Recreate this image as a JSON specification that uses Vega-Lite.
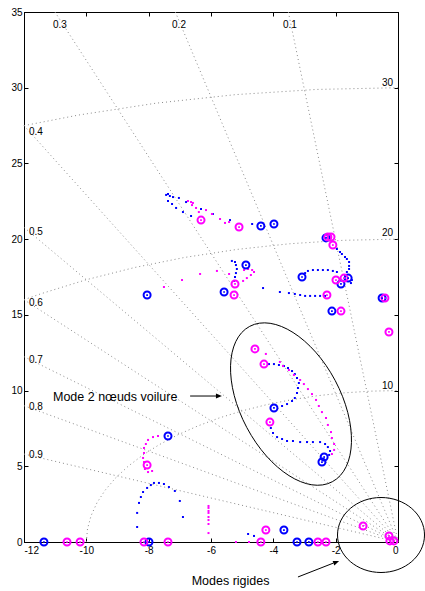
{
"$schema":"https://vega.github.io/schema/vega-lite/v6.json",
"width":374,"height":530,
"autosize":{"type":"none"},
"padding":{"left":24,"top":12,"right":27,"bottom":49},
"background":"white",
"config":{"view":{"stroke":"black","strokeWidth":1},"axis":{"grid":false,"domainColor":"black","domainWidth":1,"tickColor":"black","tickSize":-4,"labelColor":"black","labelFont":"Liberation Sans","labelFontSize":10,"title":null}},
"datasets":{
"grid":[
{"g":"z1","x":0,"y":0},{"g":"z1","x":-3.518,"y":35},
{"g":"z2","x":0,"y":0},{"g":"z2","x":-7.144,"y":35},
{"g":"z3","x":0,"y":0},{"g":"z3","x":-11.006,"y":35},
{"g":"z4","x":0,"y":0},{"g":"z4","x":-12,"y":27.5},
{"g":"z5","x":0,"y":0},{"g":"z5","x":-12,"y":20.78},
{"g":"z6","x":0,"y":0},{"g":"z6","x":-12,"y":16.0},
{"g":"z7","x":0,"y":0},{"g":"z7","x":-12,"y":12.24},
{"g":"z8","x":0,"y":0},{"g":"z8","x":-12,"y":9.0},
{"g":"z9","x":0,"y":0},{"g":"z9","x":-12,"y":5.81},
{"g":"c10","x":0,"y":10},{"g":"c10","x":-0.872,"y":9.962},{"g":"c10","x":-1.736,"y":9.848},{"g":"c10","x":-2.588,"y":9.659},{"g":"c10","x":-3.42,"y":9.397},{"g":"c10","x":-4.226,"y":9.063},{"g":"c10","x":-5,"y":8.66},{"g":"c10","x":-5.736,"y":8.192},{"g":"c10","x":-6.428,"y":7.66},{"g":"c10","x":-7.071,"y":7.071},{"g":"c10","x":-7.66,"y":6.428},{"g":"c10","x":-8.192,"y":5.736},{"g":"c10","x":-8.66,"y":5},{"g":"c10","x":-9.063,"y":4.226},{"g":"c10","x":-9.397,"y":3.42},{"g":"c10","x":-9.659,"y":2.588},{"g":"c10","x":-9.848,"y":1.736},{"g":"c10","x":-9.962,"y":0.872},{"g":"c10","x":-10,"y":0},
{"g":"c20","x":0,"y":20},{"g":"c20","x":-1.743,"y":19.924},{"g":"c20","x":-3.473,"y":19.696},{"g":"c20","x":-5.176,"y":19.319},{"g":"c20","x":-6.84,"y":18.794},{"g":"c20","x":-8.452,"y":18.126},{"g":"c20","x":-10,"y":17.321},{"g":"c20","x":-11.472,"y":16.383},{"g":"c20","x":-12,"y":16},
{"g":"c30","x":0,"y":30},{"g":"c30","x":-2.615,"y":29.886},{"g":"c30","x":-5.209,"y":29.544},{"g":"c30","x":-7.765,"y":28.978},{"g":"c30","x":-10.261,"y":28.191},{"g":"c30","x":-12,"y":27.495}
],
"glabL":[
{"t":"0.3","x":-11.07,"y":34.14},{"t":"0.2","x":-7.25,"y":34.14},{"t":"0.1","x":-3.69,"y":34.14},
{"t":"0.4","x":-11.84,"y":27.08},{"t":"0.5","x":-11.84,"y":20.49},{"t":"0.6","x":-11.84,"y":15.76},{"t":"0.7","x":-11.84,"y":12.02},{"t":"0.8","x":-11.84,"y":8.93},{"t":"0.9","x":-11.84,"y":5.75}
],
"glabR":[
{"t":"30","x":-0.16,"y":30.31},{"t":"20","x":-0.16,"y":20.41},{"t":"10","x":-0.16,"y":10.3}
],
"dots":[
{"s":"b","x":-7.44,"y":22.92},{"s":"b","x":-7.38,"y":22.98},{"s":"b","x":-7.32,"y":22.85},{"s":"b","x":-7.22,"y":22.78},{"s":"b","x":-7.03,"y":22.72},{"s":"b","x":-6.8,"y":22.45},{"s":"b","x":-6.32,"y":21.99},{"s":"b","x":-7.38,"y":22.52},{"s":"b","x":-7.25,"y":22.32},{"s":"b","x":-7.12,"y":22.06},{"s":"b","x":-6.9,"y":21.79},{"s":"b","x":-6.64,"y":21.53},{"s":"b","x":-5.94,"y":21.66},{"s":"b","x":-5.39,"y":21.26},{"s":"b","x":-4.68,"y":21.0},
{"s":"b","x":-5.33,"y":18.56},{"s":"b","x":-5.23,"y":18.49},{"s":"b","x":-5.2,"y":18.29},{"s":"b","x":-5.17,"y":18.03},{"s":"b","x":-5.2,"y":17.76},{"s":"b","x":-5.23,"y":17.5},{"s":"b","x":-5.26,"y":17.24},{"s":"b","x":-4.33,"y":16.77},
{"s":"b","x":-1.96,"y":19.35},{"s":"b","x":-1.86,"y":19.15},{"s":"b","x":-1.8,"y":19.02},{"s":"b","x":-1.7,"y":18.82},{"s":"b","x":-1.64,"y":18.69},{"s":"b","x":-1.57,"y":18.49},{"s":"b","x":-1.57,"y":18.23},{"s":"b","x":-1.57,"y":18.03},{"s":"b","x":-1.64,"y":17.83},{"s":"b","x":-1.7,"y":17.63},
{"s":"b","x":-2.98,"y":17.76},{"s":"b","x":-2.89,"y":17.9},{"s":"b","x":-2.73,"y":17.96},{"s":"b","x":-2.57,"y":17.96},{"s":"b","x":-2.41,"y":17.96},{"s":"b","x":-2.25,"y":17.96},{"s":"b","x":-2.09,"y":17.9},{"s":"b","x":-1.96,"y":17.83},
{"s":"b","x":-1.48,"y":17.3},{"s":"b","x":-1.51,"y":17.1},
{"s":"b","x":-3.79,"y":16.51},{"s":"b","x":-3.5,"y":16.44},{"s":"b","x":-3.31,"y":16.38},{"s":"b","x":-3.14,"y":16.31},{"s":"b","x":-2.98,"y":16.25},{"s":"b","x":-2.82,"y":16.25},{"s":"b","x":-2.66,"y":16.25},{"s":"b","x":-2.5,"y":16.25},{"s":"b","x":-2.34,"y":16.25},
{"s":"b","x":-4.14,"y":11.75},{"s":"b","x":-3.98,"y":11.75},{"s":"b","x":-3.82,"y":11.69},{"s":"b","x":-3.66,"y":11.62},{"s":"b","x":-3.53,"y":11.49},{"s":"b","x":-3.4,"y":11.29},{"s":"b","x":-3.31,"y":11.09},{"s":"b","x":-3.24,"y":10.83},{"s":"b","x":-3.18,"y":10.5},{"s":"b","x":-3.21,"y":10.17},{"s":"b","x":-3.24,"y":9.84},{"s":"b","x":-3.31,"y":9.51},{"s":"b","x":-3.4,"y":9.31},{"s":"b","x":-3.56,"y":9.11},{"s":"b","x":-3.72,"y":8.98},
{"s":"b","x":-4.08,"y":7.53},{"s":"b","x":-4.01,"y":7.2},{"s":"b","x":-3.88,"y":6.93},{"s":"b","x":-3.72,"y":6.8},{"s":"b","x":-3.56,"y":6.67},{"s":"b","x":-3.37,"y":6.67},{"s":"b","x":-3.14,"y":6.6},{"s":"b","x":-2.92,"y":6.6},{"s":"b","x":-2.73,"y":6.6},{"s":"b","x":-2.5,"y":6.6},{"s":"b","x":-2.34,"y":6.47},{"s":"b","x":-2.25,"y":6.27},{"s":"b","x":-2.18,"y":6.01},{"s":"b","x":-2.21,"y":5.75},
{"s":"b","x":-8.37,"y":0.99},{"s":"b","x":-8.37,"y":1.92},{"s":"b","x":-8.31,"y":2.58},{"s":"b","x":-8.25,"y":2.97},{"s":"b","x":-8.18,"y":3.3},{"s":"b","x":-8.05,"y":3.57},{"s":"b","x":-7.93,"y":3.76},{"s":"b","x":-7.83,"y":3.9},{"s":"b","x":-7.67,"y":3.9},{"s":"b","x":-7.51,"y":3.83},{"s":"b","x":-7.35,"y":3.63},{"s":"b","x":-7.16,"y":3.37},{"s":"b","x":-7.0,"y":2.71},{"s":"b","x":-6.9,"y":1.65},
{"s":"b","x":-4.81,"y":0.53},{"s":"b","x":-4.62,"y":0.4},
{"s":"m","x":-6.74,"y":22.52},{"s":"m","x":-6.64,"y":22.45},{"s":"m","x":-6.58,"y":22.39},{"s":"m","x":-6.61,"y":22.25},{"s":"m","x":-6.48,"y":22.06},{"s":"m","x":-6.16,"y":21.92},{"s":"m","x":-5.97,"y":21.66},{"s":"m","x":-5.71,"y":21.33},{"s":"m","x":-5.55,"y":21.07},{"s":"m","x":-5.42,"y":21.13},{"s":"m","x":-6.39,"y":21.79},
{"s":"m","x":-4.94,"y":17.96},{"s":"m","x":-4.81,"y":18.03},{"s":"m","x":-4.68,"y":17.96},{"s":"m","x":-4.62,"y":17.83},{"s":"m","x":-4.72,"y":17.63},{"s":"m","x":-4.85,"y":17.43},{"s":"m","x":-4.97,"y":17.24},{"s":"m","x":-5.81,"y":17.9},{"s":"m","x":-6.35,"y":17.7},{"s":"m","x":-6.93,"y":17.3},{"s":"m","x":-7.51,"y":16.84},{"s":"m","x":-5.42,"y":17.7},
{"s":"m","x":-4.24,"y":12.42},{"s":"m","x":-3.79,"y":11.89},{"s":"m","x":-3.69,"y":11.62},{"s":"m","x":-3.5,"y":11.36},{"s":"m","x":-3.34,"y":11.03},{"s":"m","x":-3.14,"y":10.7},{"s":"m","x":-3.02,"y":10.43},{"s":"m","x":-2.89,"y":10.1},{"s":"m","x":-2.76,"y":9.77},{"s":"m","x":-2.63,"y":9.38},{"s":"m","x":-2.54,"y":8.98},{"s":"m","x":-2.44,"y":8.58},{"s":"m","x":-2.31,"y":8.19},{"s":"m","x":-2.25,"y":7.73},{"s":"m","x":-2.15,"y":7.26},{"s":"m","x":-2.12,"y":6.87},{"s":"m","x":-2.05,"y":6.47},{"s":"m","x":-2.05,"y":6.08},{"s":"m","x":-2.12,"y":5.81},
{"s":"m","x":-7.7,"y":7.0},{"s":"m","x":-7.86,"y":6.93},{"s":"m","x":-8.02,"y":6.74},{"s":"m","x":-8.09,"y":6.47},{"s":"m","x":-8.15,"y":6.21},{"s":"m","x":-8.15,"y":5.88},{"s":"m","x":-8.18,"y":5.55},{"s":"m","x":-8.15,"y":5.28},{"s":"m","x":-8.12,"y":4.82},{"s":"m","x":-8.02,"y":4.62},{"s":"m","x":-7.89,"y":4.69},
{"s":"m","x":-6.08,"y":2.38},{"s":"m","x":-6.08,"y":2.25},{"s":"m","x":-6.08,"y":2.05},{"s":"m","x":-6.08,"y":1.92},{"s":"m","x":-6.08,"y":1.65},{"s":"m","x":-6.08,"y":1.45},{"s":"m","x":-6.08,"y":1.19},{"s":"m","x":-6.08,"y":0.59},
{"s":"m","x":-5.2,"y":0},{"s":"m","x":-4.78,"y":0}
],
"rings":[
{"s":"b","x":-4.4,"y":20.87},{"s":"b","x":-3.98,"y":21.0},{"s":"b","x":-4.88,"y":18.29},{"s":"b","x":-8.05,"y":16.31},{"s":"b","x":-5.58,"y":16.51},{"s":"b","x":-2.31,"y":20.08},{"s":"b","x":-3.08,"y":17.5},{"s":"b","x":-1.83,"y":17.04},{"s":"b","x":-1.6,"y":17.43},{"s":"b","x":-0.51,"y":16.11},{"s":"b","x":-2.12,"y":15.25},{"s":"b","x":-3.98,"y":8.85},{"s":"b","x":-2.37,"y":5.61},{"s":"b","x":-2.44,"y":5.28},{"s":"b","x":-7.38,"y":7.0},{"s":"b","x":-11.36,"y":0},{"s":"b","x":-7.99,"y":0},{"s":"b","x":-3.66,"y":0.79},{"s":"b","x":-3.24,"y":0},{"s":"b","x":-2.86,"y":0},
{"s":"m","x":-6.32,"y":21.26},{"s":"m","x":-5.1,"y":20.8},{"s":"m","x":-5.23,"y":17.04},{"s":"m","x":-5.26,"y":16.31},{"s":"m","x":-2.25,"y":20.14},{"s":"m","x":-2.15,"y":20.14},{"s":"m","x":-2.09,"y":19.61},{"s":"m","x":-1.99,"y":17.3},{"s":"m","x":-1.73,"y":17.43},{"s":"m","x":-2.28,"y":16.31},{"s":"m","x":-0.42,"y":16.11},{"s":"m","x":-1.83,"y":15.25},{"s":"m","x":-0.29,"y":13.87},{"s":"m","x":-4.59,"y":12.75},{"s":"m","x":-4.3,"y":11.75},{"s":"m","x":-4.11,"y":7.92},{"s":"m","x":-8.05,"y":5.08},{"s":"m","x":-10.62,"y":0},{"s":"m","x":-10.2,"y":0},{"s":"m","x":-8.15,"y":0},{"s":"m","x":-7.38,"y":0},{"s":"m","x":-4.24,"y":0.79},{"s":"m","x":-4.4,"y":0},{"s":"m","x":-2.57,"y":0},{"s":"m","x":-2.31,"y":0},{"s":"m","x":-1.12,"y":1.06},{"s":"m","x":-0.29,"y":0.4},{"s":"m","x":-0.26,"y":0.07},{"s":"m","x":-0.13,"y":0.07}
]
},
"resolve":{"axis":{"x":"independent","y":"independent"}},
"layer":[
{"data":{"name":"grid"},
 "mark":{"type":"line","color":"#8a8a8a","strokeDash":[1,3],"strokeWidth":1},
 "encoding":{
  "x":{"field":"x","type":"quantitative","scale":{"domain":[-12,0],"nice":false,"zero":false},"axis":{"orient":"bottom","values":[-12,-10,-8,-6,-4,-2,0],"labelExpr":"replace(datum.label,'−','-')","labelPadding":7}},
  "y":{"field":"y","type":"quantitative","scale":{"domain":[0,35],"nice":false,"zero":false},"axis":{"orient":"left","values":[0,5,10,15,20,25,30,35],"labelPadding":6}},
  "detail":{"field":"g"}}},
{"data":{"name":"grid"},
 "mark":{"type":"point","opacity":0},
 "encoding":{
  "x":{"field":"x","type":"quantitative","axis":{"orient":"top","values":[-12,-10,-8,-6,-4,-2,0],"labels":false}},
  "y":{"field":"y","type":"quantitative","axis":{"orient":"right","values":[0,5,10,15,20,25,30,35],"labels":false}}}},
{"data":{"name":"glabL"},
 "mark":{"type":"text","align":"left","baseline":"middle","font":"Liberation Sans","fontSize":10,"color":"black"},
 "encoding":{"x":{"field":"x","type":"quantitative","axis":null},"y":{"field":"y","type":"quantitative","axis":null},"text":{"field":"t"}}},
{"data":{"name":"glabR"},
 "mark":{"type":"text","align":"right","baseline":"middle","font":"Liberation Sans","fontSize":10,"color":"black"},
 "encoding":{"x":{"field":"x","type":"quantitative","axis":null},"y":{"field":"y","type":"quantitative","axis":null},"text":{"field":"t"}}},
{"data":{"name":"dots"},
 "mark":{"type":"point","shape":"square","filled":true,"size":4,"opacity":1},
 "encoding":{"x":{"field":"x","type":"quantitative","axis":null},"y":{"field":"y","type":"quantitative","axis":null},
  "color":{"field":"s","type":"nominal","scale":{"domain":["b","m"],"range":["#0000ff","#ff00ff"]},"legend":null}}},
{"data":{"name":"rings"},
 "mark":{"type":"point","shape":"circle","filled":false,"size":49,"strokeWidth":2,"opacity":1},
 "encoding":{"x":{"field":"x","type":"quantitative","axis":null},"y":{"field":"y","type":"quantitative","axis":null},
  "color":{"field":"s","type":"nominal","scale":{"domain":["b","m"],"range":["#0000ff","#ff00ff"]},"legend":null}}},
{"data":{"name":"rings"},
 "mark":{"type":"point","shape":"square","filled":true,"size":3,"opacity":1},
 "encoding":{"x":{"field":"x","type":"quantitative","axis":null},"y":{"field":"y","type":"quantitative","axis":null},
  "color":{"field":"s","type":"nominal","scale":{"domain":["b","m"],"range":["#0000ff","#ff00ff"]},"legend":null}}},
{"data":{"values":[{"x":-3.433,"y":9.11}]},
 "mark":{"type":"point","shape":"M0.413,0.777C0.657,0.647,0.670,0.194,0.442,-0.235C0.214,-0.664,-0.169,-0.907,-0.413,-0.777C-0.657,-0.647,-0.670,-0.194,-0.442,0.235C-0.214,0.664,0.169,0.907,0.413,0.777Z","size":40000,"filled":false,"stroke":"black","strokeWidth":1,"opacity":1},
 "encoding":{"x":{"field":"x","type":"quantitative","axis":null},"y":{"field":"y","type":"quantitative","axis":null}}},
{"data":{"values":[{"x":-0.545,"y":0.462}]},
 "mark":{"type":"point","shape":"M0.435,0C0.435,0.207,0.240,0.375,0,0.375C-0.240,0.375,-0.435,0.207,-0.435,0C-0.435,-0.207,-0.240,-0.375,0,-0.375C0.240,-0.375,0.435,-0.207,0.435,0Z","size":40000,"filled":false,"stroke":"black","strokeWidth":1,"opacity":1},
 "encoding":{"x":{"field":"x","type":"quantitative","axis":null},"y":{"field":"y","type":"quantitative","axis":null}}},
{"data":{"values":[{"x":-6.67,"y":9.64,"x2":-5.84,"y2":9.64},{"x":-3.21,"y":-2.31,"x2":-2.07,"y2":-1.39}]},
 "mark":{"type":"rule","color":"black","strokeWidth":1},
 "encoding":{"x":{"field":"x","type":"quantitative","axis":null},"y":{"field":"y","type":"quantitative","axis":null},"x2":{"field":"x2"},"y2":{"field":"y2"}}},
{"data":{"values":[{"x":-5.65,"y":9.64}]},
 "mark":{"type":"point","shape":"M0,0L-1,-0.4L-1,0.4Z","size":144,"filled":true,"color":"black","opacity":1,"angle":0},
 "encoding":{"x":{"field":"x","type":"quantitative","axis":null},"y":{"field":"y","type":"quantitative","axis":null}}},
{"data":{"values":[{"x":-1.89,"y":-1.26}]},
 "mark":{"type":"point","shape":"M0,0L-1,-0.4L-1,0.4Z","size":144,"filled":true,"color":"black","opacity":1,"angle":339.4},
 "encoding":{"x":{"field":"x","type":"quantitative","axis":null},"y":{"field":"y","type":"quantitative","axis":null}}},
{"data":{"values":[{"t":"Mode 2 nœuds voilure","x":-11.07,"y":9.31},{"t":"Modes rigides","x":-6.62,"y":-2.87}]},
 "mark":{"type":"text","align":"left","baseline":"alphabetic","font":"Liberation Sans","fontSize":12.5,"color":"black"},
 "encoding":{"x":{"field":"x","type":"quantitative","axis":null},"y":{"field":"y","type":"quantitative","axis":null},"text":{"field":"t"}}}
]
}
